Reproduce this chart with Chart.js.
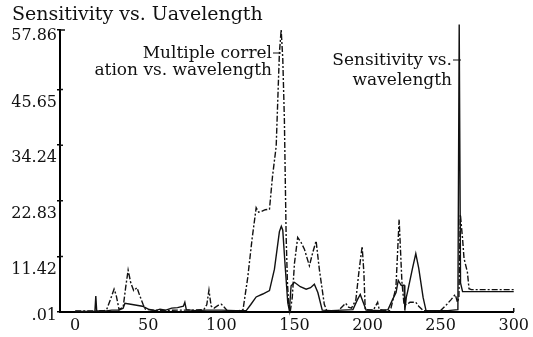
<!DOCTYPE html>
<html><head><meta charset="utf-8">
<script src="https://cdn.jsdelivr.net/npm/chart.js@4"></script>
<style>html,body{margin:0;padding:0;background:#fff}</style>
</head><body>
<canvas id="c" width="533" height="337"></canvas>
<script>
// ---- data ----
const corrX = [0,10,20,21.5,24,26.6,28,30,32.8,34.5,36.2,38,40,42.3,44,46.4,48,52,60,70,80,88,90,91.5,93,95,98,100,102,104,112,114.8,118,121,123.8,125.5,127.2,130,132.9,135,137.5,139.7,140.9,142,143.1,144.3,145.2,146.1,147.2,148.5,150,152.2,154.5,156.8,160.2,162.5,164.8,167,170.4,172,180,183,185,187,189,192,194,196.3,197.5,198.4,204,206.9,208,215,216,219.4,221.6,223.5,225,227,229,233,235,238,250,254,257,260,261.5,262.5,263.5,265,266,268.3,269.4,271,300];
const corrY = [0.2,0.2,0.3,0.5,2.5,4.7,3.5,0.5,1.0,5.0,8.6,6.0,4.4,5.0,3.5,1.6,0.6,0.4,0.3,0.4,0.4,0.5,1.5,4.5,1.2,0.8,1.4,1.6,1.0,0.3,0.3,0.5,7,15,21.4,20.5,20.6,21,21.1,27.9,34,53.2,57.86,52,39.5,15.6,6,1.3,0.3,3,10,15.3,14.3,12.9,9.5,12.2,14.6,8.8,1.6,0.3,0.3,1.2,1.8,1.0,0.8,2.5,8,13.5,8,0.5,0.4,2.0,0.5,0.3,0.8,5,19,6.2,1.4,1.6,2.0,2.0,1.2,0.3,0.3,1.5,2.5,3.6,2,3,20,15,11,8.2,4.8,4.6,4.6];
const sensX = [0,10,13.5,14.1,14.7,20,25,30,32.8,34,38,42,46,50,55,58,62,66,70,74,75,76,82,90,100,110,117,120,123.8,128.3,132.9,136.3,139.7,141,142,143.5,145.4,146.5,147.7,150,154,158,161,163.6,166,169,175,190,193,195,197,199,210,214,217,219.5,221,223,225,225.5,226.5,227.4,230.7,233,235,238,240,255,261.8,262.7,263.6,265,300];
const sensY = [0.1,0.1,0.2,3.3,0.2,0.2,0.4,0.4,0.8,1.8,1.6,1.4,1.2,0.6,0.3,0.6,0.4,0.8,0.9,1.2,2.0,0.5,0.3,0.4,0.4,0.3,0.3,1.5,3.1,3.7,4.4,8.8,16.5,17.6,16.8,10,2,0.3,5.4,6.1,5.2,4.7,5.0,5.7,4.0,0.4,0.3,0.5,2.5,3.6,2,0.4,0.3,0.5,2.5,4,6.5,5.5,5.5,0.3,3,4.2,8.9,12,9,3,0.3,0.3,0.5,59,6,4.2,4.2];
const xTicks = [0,50,100,150,200,250,300];
const yTicks = [0.01,11.42,22.83,34.24,45.65,57.86];
const yTickLabels = ['.01','11.42','22.83','34.24','45.65','57.86'];
const chartTitle = 'Sensitivity vs. Uavelength';
const corrLabel = ['Multiple correl','ation vs. wavelength'];
const sensLabel = ['Sensitivity vs.','wavelength'];

const SERIF = '"DejaVu Serif", "Liberation Serif", serif';
const INK = '#111';

const textPlugin = {
  id: 'texts',
  afterDraw(chart) {
    const ctx = chart.ctx, y = chart.scales.y, x = chart.scales.x, a = chart.chartArea;
    ctx.save();
    ctx.fillStyle = INK;
    ctx.strokeStyle = INK;
    // y tick labels (sit a little below their ticks, as in the scan)
    ctx.font = '16px ' + SERIF;
    ctx.textAlign = 'right';
    ctx.textBaseline = 'middle';
    ctx.lineWidth = 1.5;
    ctx.beginPath();
    yTicks.forEach((v, i) => {
      const py = y.getPixelForValue(v);
      const dy = i === 0 ? 4 : (i === yTicks.length - 1 ? 6 : 13);
      ctx.fillText(yTickLabels[i], a.left - 3, py + dy);
      if (i > 0) { ctx.moveTo(a.left, py); ctx.lineTo(a.left + (i === yTicks.length - 1 ? 5 : 3), py); }
    });
    // small end tick on the x axis at 300
    const px300 = x.getPixelForValue(300);
    ctx.moveTo(px300, a.bottom); ctx.lineTo(px300, a.bottom - 4);
    ctx.stroke();
    // title
    ctx.textAlign = 'left';
    ctx.textBaseline = 'alphabetic';
    ctx.font = '19px ' + SERIF;
    ctx.fillText(chartTitle, 12, 20);
    // series labels
    ctx.font = '17px ' + SERIF;
    ctx.textAlign = 'right';
    ctx.fillText(corrLabel[0], 272, 58);
    ctx.fillText(corrLabel[1], 272, 75);
    ctx.fillText(sensLabel[0], 452, 65);
    ctx.fillText(sensLabel[1], 452, 85);
    ctx.lineWidth = 1.2;
    ctx.beginPath();
    ctx.moveTo(273, 53); ctx.lineTo(281, 53);
    ctx.moveTo(453, 60); ctx.lineTo(461, 60);
    ctx.stroke();
    ctx.restore();
  }
};

new Chart(document.getElementById('c'), {
  type: 'line',
  data: {
    datasets: [
      {
        label: 'Multiple correlation',
        data: corrX.map((x, i) => ({x, y: corrY[i]})),
        borderColor: INK, borderWidth: 1.4, borderDash: [6, 2, 2, 2],
        pointRadius: 0, tension: 0, fill: false, clip: false
      },
      {
        label: 'Sensitivity',
        data: sensX.map((x, i) => ({x, y: sensY[i]})),
        borderColor: INK, borderWidth: 1.4,
        pointRadius: 0, tension: 0, fill: false, clip: false
      }
    ]
  },
  options: {
    responsive: false, animation: false, devicePixelRatio: 1,
    layout: {padding: {top: 30, right: 18, left: 0, bottom: 0}},
    plugins: {legend: {display: false}, tooltip: {enabled: false}, title: {display: false}},
    scales: {
      x: {
        type: 'linear', min: -10.4, max: 300,
        afterBuildTicks: s => { s.ticks = xTicks.map(v => ({value: v})); },
        afterFit: s => { s.height = 25; },
        grid: {drawOnChartArea: false, drawTicks: false, display: false},
        border: {display: true, color: '#000', width: 2},
        ticks: {padding: 4, font: {family: SERIF, size: 16}, color: INK, maxRotation: 0, autoSkip: false, callback: v => String(v)}
      },
      y: {
        type: 'linear', min: 0.01, max: 57.86,
        afterBuildTicks: s => { s.ticks = yTicks.map(v => ({value: v})); },
        afterFit: s => { s.width = 60; },
        grid: {drawOnChartArea: false, drawTicks: true, tickLength: 3, color: '#000', lineWidth: 1.5},
        border: {display: true, color: '#000', width: 2},
        ticks: {display: false}
      }
    }
  },
  plugins: [textPlugin]
});
</script>
</body></html>
